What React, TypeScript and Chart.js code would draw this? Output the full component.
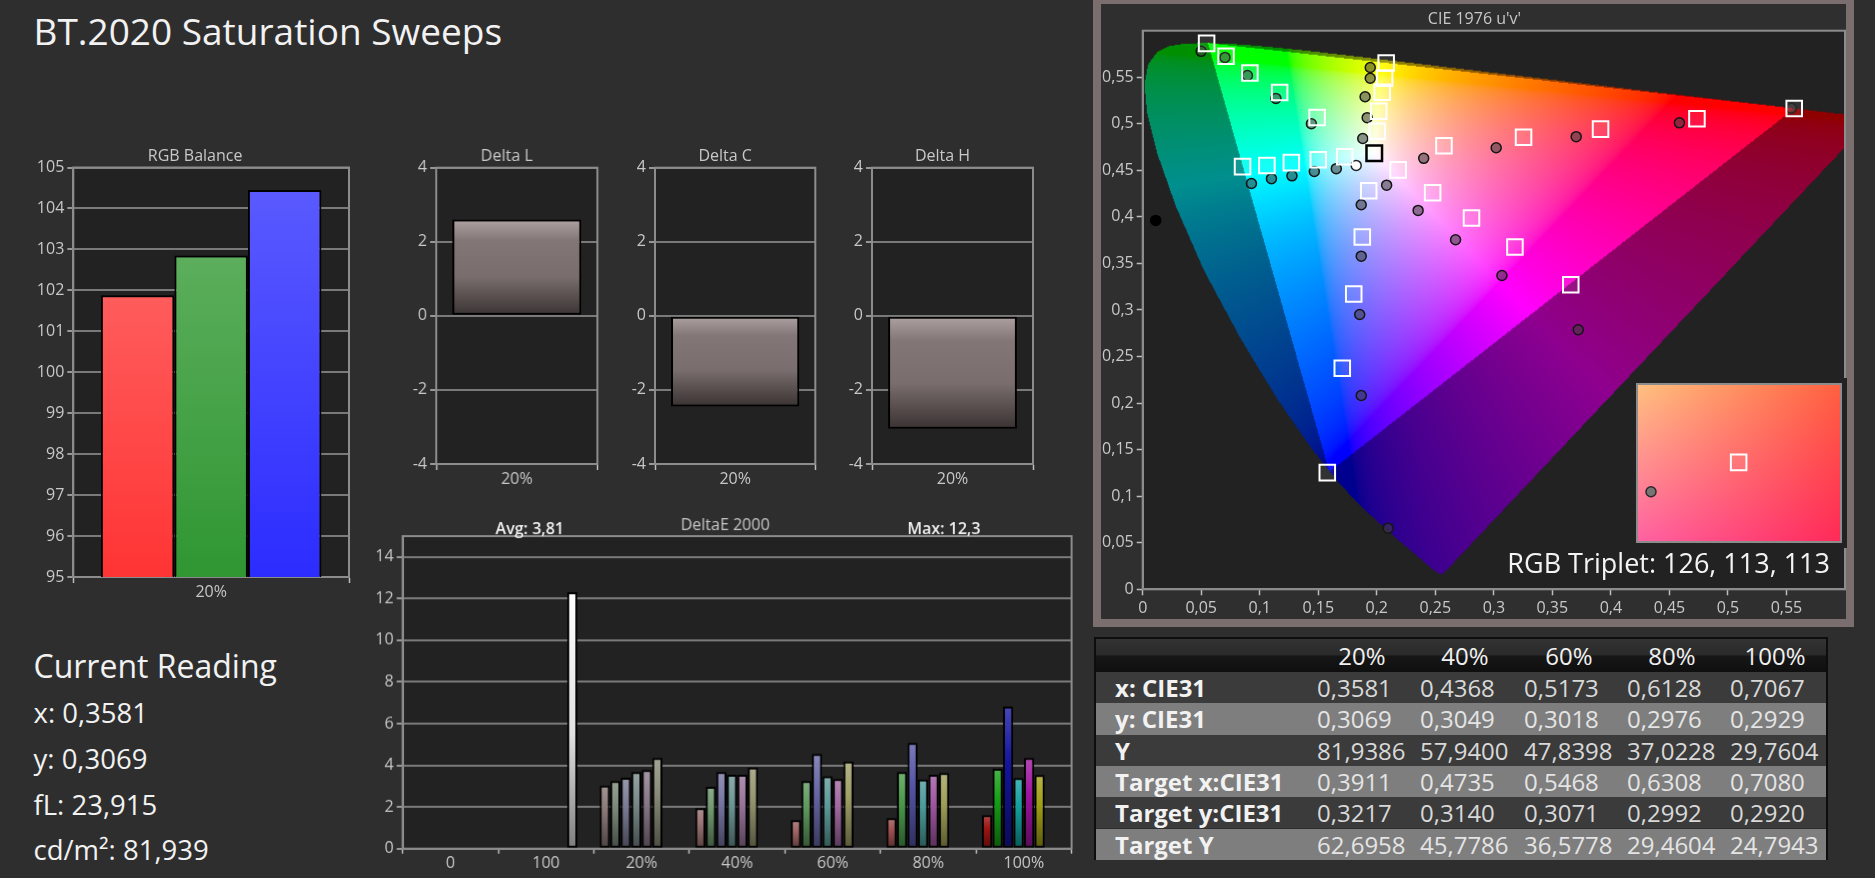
import React, { useEffect, useRef } from 'react';
import { Chart, registerables } from 'chart.js';

Chart.register(...registerables);

const FONT = "'Open Sans', 'Noto Sans', 'DejaVu Sans', sans-serif";
const PAGE_BG = '#2e2e2e';
const PLOT_BG = '#222222';
const GRID = '#7a7a7a';
const FRAME = '#8c8c8c';
const TICK = '#c8c8c8';
const TICK_MARK = '#bdbdbd';
const TICK_SIZE = 16;

Chart.defaults.font.family = FONT;
Chart.defaults.color = TICK;

// ---------------- data ----------------
const TITLE = 'BT.2020 Saturation Sweeps';

const RGB_LABELS = ['20%'];
const RGB_RED = [101.88];
const RGB_GREEN = [102.85];
const RGB_BLUE = [104.45];

const DELTA_LABELS = ['20%'];
const DELTA_L = [2.6];
const DELTA_C = [-2.45];
const DELTA_H = [-3.05];

const DE_LABELS = ['0', '100', '20%', '40%', '60%', '80%', '100%'];
const DE_RED = [null, null, 3.03, 1.95, 1.37, 1.47, 1.61];
const DE_GREEN = [null, null, 3.24, 2.97, 3.24, 3.68, 3.84];
const DE_BLUE = [null, null, 3.4, 3.68, 4.55, 5.08, 6.82];
const DE_CYAN = [null, null, 3.68, 3.55, 3.47, 3.32, 3.39];
const DE_MAGENTA = [null, null, 3.77, 3.55, 3.34, 3.55, 4.35];
const DE_YELLOW = [null, null, 4.35, 3.9, 4.19, 3.63, 3.53];
const DE_WHITE = [null, 12.3, null, null, null, null, null];
const DE_BLACK = [0, null, null, null, null, null, null];
const DE_AVG_TEXT = 'Avg: 3,81';
const DE_MAX_TEXT = 'Max: 12,3';

// colours of the delta E bars per category (0,100,20%..100%)
const DE_RED_COL = ['#000', '#000', '#8a7878', '#9a7272', '#a06464', '#a05050', '#a01414'];
const DE_GREEN_COL = ['#000', '#000', '#7a887a', '#6e966e', '#5e985e', '#4c9a4c', '#14a014'];
const DE_BLUE_COL = ['#000', '#000', '#7c7c96', '#7676a4', '#6868a8', '#5656a8', '#1414a0'];
const DE_CYAN_COL = ['#000', '#000', '#7a8a8a', '#6e9696', '#5e9a9a', '#4c9a9a', '#14a0a0'];
const DE_MAGENTA_COL = ['#000', '#000', '#8a7a8a', '#9a749a', '#a068a0', '#a056a0', '#a014a0'];
const DE_YELLOW_COL = ['#000', '#000', '#8a8a78', '#969670', '#a0a068', '#a0a058', '#a0a014'];

const TABLE_COLS = ['20%', '40%', '60%', '80%', '100%'];
const MEAS_X = [0.3581, 0.4368, 0.5173, 0.6128, 0.7067];
const MEAS_Y = [0.3069, 0.3049, 0.3018, 0.2976, 0.2929];
const MEAS_LUM = [81.9386, 57.94, 47.8398, 37.0228, 29.7604];
const TARGET_X = [0.3911, 0.4735, 0.5468, 0.6308, 0.708];
const TARGET_Y = [0.3217, 0.314, 0.3071, 0.2992, 0.292];
const TARGET_LUM = [62.6958, 45.7786, 36.5778, 29.4604, 24.7943];

const READING_FL = '23,915';
const READING_CDM2 = '81,939';
const RGB_TRIPLET = 'RGB Triplet: 126, 113, 113';

// CIE 1976 u'v' targets (20% -> 100%)
const TARGET_GREEN_UV = [[0.149, 0.5067], [0.117, 0.5337], [0.0916, 0.5545], [0.0712, 0.5726], [0.0546, 0.5864]];
const TARGET_BLUE_UV = [[0.1931, 0.4281], [0.1876, 0.3785], [0.1803, 0.3172], [0.1705, 0.2374], [0.1577, 0.1253]];
const TARGET_CYAN_UV = [[0.1726, 0.4647], [0.15, 0.4613], [0.127, 0.4583], [0.1061, 0.4553], [0.0853, 0.454]];
const TARGET_MAGENTA_UV = [[0.2182, 0.4505], [0.2477, 0.426], [0.2809, 0.3988], [0.318, 0.3677], [0.3657, 0.3272]];
const TARGET_YELLOW_UV = [[0.2003, 0.492], [0.2016, 0.5135], [0.2046, 0.5338], [0.2067, 0.5489], [0.208, 0.5653]];
// measured (20% -> 100%)
const MEAS_GREEN_UV = [[0.1441, 0.5001], [0.1138, 0.5273], [0.0895, 0.5519], [0.0703, 0.5713], [0.0499, 0.5778]];
const MEAS_BLUE_UV = [[0.1867, 0.413], [0.1867, 0.3578], [0.1854, 0.2952], [0.1867, 0.2081], [0.2097, 0.0657]];
const MEAS_CYAN_UV = [[0.1654, 0.4518], [0.1466, 0.4488], [0.1275, 0.4441], [0.11, 0.4411], [0.0929, 0.4359]];
const MEAS_MAGENTA_UV = [[0.2084, 0.4341], [0.2353, 0.407], [0.2673, 0.3755], [0.3069, 0.3371], [0.3721, 0.2788]];
const MEAS_YELLOW_UV = [[0.188, 0.4842], [0.1918, 0.5066], [0.19, 0.5291], [0.1944, 0.5489], [0.1944, 0.5605]];
const WHITE_TARGET_XY = [0.3127, 0.329];
const MEAS_WHITE_UV = [0.1824, 0.4553];
const MEAS_BLACK_UV = [0.0111, 0.3962];

const BT2020_X = [0.708, 0.17, 0.131];
const BT2020_Y = [0.292, 0.797, 0.046];

// CIE 1931 spectral locus (380 -> 700 nm)
const LOCUS_X = [0.1741, 0.1733, 0.1714, 0.1689, 0.1644, 0.1566, 0.144, 0.1355, 0.1241, 0.1096, 0.0913, 0.0687, 0.0454, 0.0235, 0.0082, 0.0039, 0.0139, 0.0389, 0.0743, 0.1142, 0.1547, 0.1929, 0.2296, 0.2658, 0.3016, 0.3373, 0.3731, 0.4087, 0.4441, 0.4788, 0.5125, 0.5448, 0.5752, 0.6029, 0.627, 0.6658, 0.6915, 0.7079, 0.719, 0.726, 0.7347];
const LOCUS_Y = [0.005, 0.0048, 0.0051, 0.0069, 0.0109, 0.0177, 0.0297, 0.0399, 0.0578, 0.0868, 0.1327, 0.2007, 0.295, 0.4127, 0.5384, 0.6548, 0.7502, 0.812, 0.8338, 0.8262, 0.8059, 0.7816, 0.7543, 0.7243, 0.6923, 0.6589, 0.6245, 0.5896, 0.5547, 0.5202, 0.4866, 0.4544, 0.4242, 0.3965, 0.3725, 0.334, 0.3083, 0.292, 0.2809, 0.274, 0.2653];

const INSET_U_RANGE = [0.2375, 0.2774];
const INSET_V_RANGE = [0.4404, 0.5117];
const INSET_CORNERS = ['#ffc080', '#ff6040', '#ff62a2', '#ff2a58']; // TL, TR, BL, BR

// ---------------- helpers ----------------
function xyToUv(x: number, y: number): [number, number] {
  const d = -2 * x + 12 * y + 3;
  return [(4 * x) / d, (9 * y) / d];
}
function hexToRgb(h: string) {
  const n = parseInt(h.slice(1), 16);
  return [(n >> 16) & 255, (n >> 8) & 255, n & 255];
}
function mixHex(h: string, t: number, target: number) {
  const c = hexToRgb(h).map((v) => Math.round(v + (target - v) * t));
  return `rgb(${c[0]},${c[1]},${c[2]})`;
}
function fmtComma(v: number, dec: number) {
  return v.toFixed(dec).replace('.', ',');
}
function tickComma(v: any) {
  return String(Math.round(Number(v) * 100) / 100).replace('.', ',');
}

function barFill(stops: (i: number) => [number, string][]) {
  return (c: any) => {
    const chart = c.chart;
    const ys = chart.scales && chart.scales.y;
    const st = stops(c.dataIndex || 0);
    const v = c.raw;
    if (!ys || !chart.chartArea || typeof v !== 'number') return st[Math.floor(st.length / 2)][1];
    const base = Math.min(Math.max(0, ys.min), ys.max);
    const p1 = ys.getPixelForValue(v);
    const p0 = ys.getPixelForValue(base);
    const top = Math.min(p0, p1);
    const bot = Math.max(p0, p1);
    if (bot - top < 1) return st[0][1];
    const g = chart.ctx.createLinearGradient(0, top, 0, bot);
    st.forEach(([o, col]) => g.addColorStop(o, col));
    return g;
  };
}

function uvToRgb(u: number, v: number) {
  const den = 6 * u - 16 * v + 12;
  const x = (9 * u) / den;
  const y = (4 * v) / den;
  const X = x / y;
  const Z = (1 - x - y) / y;
  let r = 3.2406 * X - 1.5372 - 0.4986 * Z;
  let g = -0.9689 * X + 1.8758 + 0.0415 * Z;
  let b = 0.0557 * X - 0.204 + 1.057 * Z;
  r = Math.max(r, 0);
  g = Math.max(g, 0);
  b = Math.max(b, 0);
  const m = Math.max(r, g, b) || 1;
  return [r / m, g / m, b / m].map((c) => 255 * (c <= 0.0031308 ? 12.92 * c : 1.055 * Math.pow(c, 1 / 2.4) - 0.055));
}
function inTri(u: number, v: number, t: [number, number][]) {
  const s = (a: [number, number], b: [number, number]) => (b[0] - a[0]) * (v - a[1]) - (b[1] - a[1]) * (u - a[0]);
  const d1 = s(t[0], t[1]);
  const d2 = s(t[1], t[2]);
  const d3 = s(t[2], t[0]);
  const neg = d1 < 0 || d2 < 0 || d3 < 0;
  const pos = d1 > 0 || d2 > 0 || d3 > 0;
  return !(neg && pos);
}

// ---------------- plugins ----------------
const plotFrame = {
  id: 'plotFrame',
  beforeDraw(chart: any, _a: any, opts: any) {
    const a = chart.chartArea;
    if (!a) return;
    const ctx = chart.ctx;
    ctx.save();
    ctx.fillStyle = (opts && opts.bg) || PLOT_BG;
    ctx.fillRect(a.left, a.top, a.right - a.left, a.bottom - a.top);
    ctx.restore();
  },
  beforeDatasetsDraw(chart: any, _a: any, opts: any) {
    if (opts && opts.frame === false) return;
    const a = chart.chartArea;
    const ctx = chart.ctx;
    ctx.save();
    ctx.strokeStyle = FRAME;
    ctx.lineWidth = 2;
    ctx.strokeRect(a.left, a.top, a.right - a.left, a.bottom - a.top);
    ctx.restore();
  },
};

// panel title drawn above the plot, centred at (plot centre + dx)
const panelTitle = {
  id: 'panelTitle',
  afterDraw(chart: any, _a: any, opts: any) {
    if (!opts || !opts.text) return;
    const a = chart.chartArea;
    const ctx = chart.ctx;
    ctx.save();
    ctx.font = `16px ${FONT}`;
    ctx.fillStyle = TICK;
    ctx.textAlign = 'center';
    ctx.textBaseline = 'middle';
    ctx.fillText(opts.text, (a.left + a.right) / 2 + (opts.dx || 0), a.top - (opts.dy || 11));
    ctx.restore();
  },
};

const gamutCache = new WeakMap<any, any>();
const gamutPlugin = {
  id: 'gamut',
  beforeDatasetsDraw(chart: any) {
    const a = chart.chartArea;
    const xs = chart.scales.x;
    const ys = chart.scales.y;
    const w = Math.max(1, Math.round(a.right - a.left));
    const h = Math.max(1, Math.round(a.bottom - a.top));
    let cache = gamutCache.get(chart);
    if (!cache || cache.w !== w || cache.h !== h) {
      const off = document.createElement('canvas');
      off.width = w;
      off.height = h;
      const octx = off.getContext('2d')!;
      const img = octx.createImageData(w, h);
      const d = img.data;
      const poly = LOCUS_X.map((lx, k) => {
        const [u, v] = xyToUv(lx, LOCUS_Y[k]);
        return [xs.getPixelForValue(u) - a.left, ys.getPixelForValue(v) - a.top];
      });
      const tri = BT2020_X.map((px, k) => xyToUv(px, BT2020_Y[k]));
      const us = new Float64Array(w);
      for (let i = 0; i < w; i++) us[i] = xs.getValueForPixel(a.left + i + 0.5);
      for (let j = 0; j < h; j++) {
        const py = j + 0.5;
        const v = ys.getValueForPixel(a.top + py);
        const cuts: number[] = [];
        for (let k = 0; k < poly.length; k++) {
          const p = poly[k];
          const q = poly[(k + 1) % poly.length];
          if ((p[1] <= py && q[1] > py) || (q[1] <= py && p[1] > py)) {
            cuts.push(p[0] + ((py - p[1]) / (q[1] - p[1])) * (q[0] - p[0]));
          }
        }
        cuts.sort((m, n) => m - n);
        for (let c = 0; c + 1 < cuts.length; c += 2) {
          const i0 = Math.max(0, Math.ceil(cuts[c] - 0.5));
          const i1 = Math.min(w - 1, Math.floor(cuts[c + 1] - 0.5));
          for (let i = i0; i <= i1; i++) {
            const u = us[i];
            const rgb = uvToRgb(u, v);
            const f = inTri(u, v, tri) ? 1 : 0.56;
            const o = (j * w + i) * 4;
            d[o] = rgb[0] * f;
            d[o + 1] = rgb[1] * f;
            d[o + 2] = rgb[2] * f;
            d[o + 3] = 255;
          }
        }
      }
      octx.putImageData(img, 0, 0);
      cache = { w, h, off };
      gamutCache.set(chart, cache);
    }
    const ctx = chart.ctx;
    ctx.save();
    ctx.drawImage(cache.off, a.left, a.top, a.right - a.left, a.bottom - a.top);
    ctx.restore();
  },
};

const tripletPlugin = {
  id: 'triplet',
  afterDatasetsDraw(chart: any) {
    const a = chart.chartArea;
    const ctx = chart.ctx;
    ctx.save();
    ctx.font = `27px ${FONT}`;
    ctx.fillStyle = '#f4f4f4';
    ctx.textAlign = 'right';
    ctx.textBaseline = 'alphabetic';
    ctx.fillText(RGB_TRIPLET, a.right - 15, a.bottom - 16.5);
    ctx.restore();
  },
};

const insetBgCache = new WeakMap<any, any>();
const insetBg = {
  id: 'insetBg',
  beforeDatasetsDraw(chart: any) {
    const a = chart.chartArea;
    const w = Math.max(1, Math.round(a.right - a.left));
    const h = Math.max(1, Math.round(a.bottom - a.top));
    let cache = insetBgCache.get(chart);
    if (!cache || cache.w !== w || cache.h !== h) {
      const off = document.createElement('canvas');
      off.width = w;
      off.height = h;
      const octx = off.getContext('2d')!;
      const img = octx.createImageData(w, h);
      const [tl, tr, bl, br] = INSET_CORNERS.map(hexToRgb);
      for (let j = 0; j < h; j++) {
        const ty = j / Math.max(1, h - 1);
        for (let i = 0; i < w; i++) {
          const tx = i / Math.max(1, w - 1);
          const o = (j * w + i) * 4;
          for (let k = 0; k < 3; k++) {
            const top = tl[k] + (tr[k] - tl[k]) * tx;
            const bot = bl[k] + (br[k] - bl[k]) * tx;
            img.data[o + k] = top + (bot - top) * ty;
          }
          img.data[o + 3] = 255;
        }
      }
      octx.putImageData(img, 0, 0);
      cache = { w, h, off };
      insetBgCache.set(chart, cache);
    }
    chart.ctx.drawImage(cache.off, a.left, a.top, a.right - a.left, a.bottom - a.top);
  },
};

const deltaEText = {
  id: 'deltaEText',
  afterDraw(chart: any) {
    const a = chart.chartArea;
    const ctx = chart.ctx;
    const w = a.right - a.left;
    ctx.save();
    ctx.font = `600 16px ${FONT}`;
    ctx.fillStyle = '#f2f2f2';
    ctx.textAlign = 'center';
    ctx.textBaseline = 'middle';
    ctx.fillText(DE_AVG_TEXT, a.left + 0.19 * w, a.top - 7);
    ctx.fillText(DE_MAX_TEXT, a.left + 0.809 * w, a.top - 7);
    ctx.restore();
  },
};

// ---------------- scale builders ----------------
function yScale(min: number, max: number, step: number, width: number) {
  return {
    type: 'linear',
    min,
    max,
    ticks: { stepSize: step, color: TICK, font: { size: TICK_SIZE, family: FONT }, padding: 3, includeBounds: false },
    grid: { color: GRID, lineWidth: 2, tickLength: 6, tickColor: TICK_MARK, tickWidth: 1.5 },
    border: { color: FRAME, width: 2 },
    afterFit: (s: any) => {
      s.width = width;
    },
  };
}
function xCategory(height: number, tickLength = 6) {
  return {
    type: 'category',
    ticks: { color: TICK, font: { size: TICK_SIZE, family: FONT }, padding: 0, maxRotation: 0, autoSkip: false },
    grid: { offset: true, drawOnChartArea: false, tickLength, tickColor: TICK_MARK, tickWidth: 1.5 },
    border: { color: FRAME, width: 2 },
    afterFit: (s: any) => {
      s.height = height;
    },
  };
}
const baseOpts = { animation: false as const, responsive: true, maintainAspectRatio: false, events: [] as any[] };
const quietPlugins = { legend: { display: false }, tooltip: { enabled: false }, title: { display: false } };

// ---------------- chart box ----------------
function ChartBox({ left, top, width, height, make }: { left: number; top: number; width: number; height: number; make: () => any }) {
  const ref = useRef<HTMLCanvasElement | null>(null);
  useEffect(() => {
    const chart = new Chart(ref.current as HTMLCanvasElement, make());
    return () => chart.destroy();
  }, []);
  return (
    <div style={{ position: 'absolute', left, top, width, height }}>
      <canvas ref={ref} />
    </div>
  );
}

function rgbConfig() {
  const grad = (t: string, b: string) => barFill(() => [[0, t], [1, b]]);
  return {
    type: 'bar',
    data: {
      labels: RGB_LABELS,
      datasets: [
        { data: RGB_RED, backgroundColor: grad('#ff5c5c', '#ff3434') },
        { data: RGB_GREEN, backgroundColor: grad('#5cae5c', '#2f9632') },
        { data: RGB_BLUE, backgroundColor: grad('#5a5aff', '#2c2cff') },
      ].map((d) => ({ ...d, borderColor: '#000', borderWidth: 2, borderSkipped: false, categoryPercentage: 0.8, barPercentage: 1 })),
    },
    options: {
      ...baseOpts,
      layout: { padding: { left: 0, right: 10, top: 27.5, bottom: 0 } },
      plugins: { ...quietPlugins, panelTitle: { text: 'RGB Balance', dx: -16, dy: 10.8 } },
      scales: { x: xCategory(30), y: yScale(95, 105, 1, 73.3) },
    },
    plugins: [plotFrame, panelTitle],
  };
}

function deltaConfig(name: string, values: number[]) {
  return {
    type: 'bar',
    data: {
      labels: DELTA_LABELS,
      datasets: [
        {
          data: values,
          backgroundColor: barFill(() => [[0, '#aea2a2'], [0.22, '#827676'], [0.6, '#796d6d'], [1, '#3a3232']]),
          borderColor: '#000',
          borderWidth: 2,
          borderSkipped: false,
          categoryPercentage: 0.8,
          barPercentage: 1,
        },
      ],
    },
    options: {
      ...baseOpts,
      layout: { padding: { left: 0, right: 6, top: 27.7, bottom: 0 } },
      plugins: { ...quietPlugins, panelTitle: { text: name, dx: -10, dy: 11.7 } },
      scales: { x: xCategory(30), y: yScale(-4, 4, 2, 40) },
    },
    plugins: [plotFrame, panelTitle],
  };
}

function deltaEConfig() {
  const colourSet = (cols: string[]) =>
    barFill((i) => [[0, mixHex(cols[i], 0.22, 255)], [0.4, mixHex(cols[i], 0, 0)], [1, mixHex(cols[i], 0.45, 0)]]);
  const ds = [
    { data: DE_RED, backgroundColor: colourSet(DE_RED_COL) },
    { data: DE_GREEN, backgroundColor: colourSet(DE_GREEN_COL) },
    { data: DE_BLUE, backgroundColor: colourSet(DE_BLUE_COL) },
    { data: DE_CYAN, backgroundColor: colourSet(DE_CYAN_COL) },
    { data: DE_MAGENTA, backgroundColor: colourSet(DE_MAGENTA_COL) },
    { data: DE_YELLOW, backgroundColor: colourSet(DE_YELLOW_COL) },
    { data: DE_WHITE, backgroundColor: barFill(() => [[0, '#ffffff'], [0.55, '#e2e2e2'], [1, '#7e7e7e']]) },
    { data: DE_BLACK, backgroundColor: '#000' },
  ].map((d) => ({ ...d, borderColor: '#000', borderWidth: 2, borderSkipped: false, categoryPercentage: 0.88, barPercentage: 0.97 }));
  return {
    type: 'bar',
    data: { labels: DE_LABELS, datasets: ds },
    options: {
      ...baseOpts,
      layout: { padding: { left: 0, right: 6, top: 31, bottom: 0 } },
      plugins: { ...quietPlugins, panelTitle: { text: 'DeltaE 2000', dx: -12, dy: 11 } },
      scales: { x: xCategory(30, 5), y: yScale(0, 15, 2, 42.6) },
    },
    plugins: [plotFrame, deltaEText, panelTitle],
  };
}

function cieConfig() {
  const toPts = (arr: number[][]) => arr.map(([x, y]) => ({ x, y }));
  const redTargets = TARGET_X.map((x, i) => xyToUv(x, TARGET_Y[i]));
  const redMeas = MEAS_X.map((x, i) => xyToUv(x, MEAS_Y[i]));
  const targets = [
    ...toPts(redTargets),
    ...toPts(TARGET_GREEN_UV),
    ...toPts(TARGET_BLUE_UV),
    ...toPts(TARGET_CYAN_UV),
    ...toPts(TARGET_MAGENTA_UV),
    ...toPts(TARGET_YELLOW_UV),
  ];
  const meas = [
    ...toPts(redMeas),
    ...toPts(MEAS_GREEN_UV),
    ...toPts(MEAS_BLUE_UV),
    ...toPts(MEAS_CYAN_UV),
    ...toPts(MEAS_MAGENTA_UV),
    ...toPts(MEAS_YELLOW_UV),
  ];
  const wt = xyToUv(WHITE_TARGET_XY[0], WHITE_TARGET_XY[1]);
  const axis = (isX: boolean, size: number) => ({
    type: 'linear',
    min: 0,
    max: 0.6,
    ticks: { stepSize: 0.05, color: TICK, font: { size: TICK_SIZE, family: FONT }, padding: isX ? 4 : 3, callback: tickComma, maxRotation: 0, autoSkip: false },
    grid: { drawOnChartArea: false, tickLength: 6, tickColor: TICK_MARK, tickWidth: 1.5 },
    border: { color: FRAME, width: 2 },
    afterBuildTicks: (s: any) => {
      s.ticks = s.ticks.filter((t: any) => t.value < 0.5999);
    },
    afterFit: (s: any) => {
      if (isX) s.height = size;
      else s.width = size;
    },
  });
  return {
    type: 'scatter',
    data: {
      datasets: [
        { data: [{ x: wt[0], y: wt[1] }], pointStyle: 'rect', pointRadius: 11, borderColor: '#000', borderWidth: 2.5, backgroundColor: 'rgba(0,0,0,0)' },
        { data: targets, pointStyle: 'rect', pointRadius: 11, borderColor: '#ffffff', borderWidth: 2, backgroundColor: 'rgba(255,255,255,0.08)' },
        { data: [{ x: MEAS_WHITE_UV[0], y: MEAS_WHITE_UV[1] }], pointRadius: 5, borderColor: '#222', borderWidth: 1.5, backgroundColor: '#ffffff' },
        { data: [{ x: MEAS_BLACK_UV[0], y: MEAS_BLACK_UV[1] }], pointRadius: 5, borderColor: '#000', borderWidth: 1.5, backgroundColor: '#000000' },
        { data: meas, pointRadius: 5, borderColor: '#151515', borderWidth: 1.5, backgroundColor: 'rgba(62,62,62,0.56)' },
      ],
    },
    options: {
      ...baseOpts,
      layout: { padding: { left: 0, right: 6, top: 26.7, bottom: 0 }, autoPadding: false },
      plugins: { ...quietPlugins, panelTitle: { text: "CIE 1976 u'v'", dx: -19.4, dy: 11.7 } },
      scales: { x: axis(true, 32), y: axis(false, 41.7) },
    },
    plugins: [gamutPlugin, plotFrame, tripletPlugin, panelTitle],
  };
}

function insetConfig() {
  const t = xyToUv(TARGET_X[0], TARGET_Y[0]);
  const m = xyToUv(MEAS_X[0], MEAS_Y[0]);
  return {
    type: 'scatter',
    data: {
      datasets: [
        { data: [{ x: t[0], y: t[1] }], pointStyle: 'rect', pointRadius: 11, borderColor: '#ffffff', borderWidth: 2, backgroundColor: 'rgba(255,255,255,0.08)' },
        { data: [{ x: m[0], y: m[1] }], pointRadius: 5, borderColor: '#2a2a2a', borderWidth: 1.5, backgroundColor: '#7a7474' },
      ],
    },
    options: {
      ...baseOpts,
      layout: { padding: 0, autoPadding: false },
      plugins: { legend: { display: false }, tooltip: { enabled: false } },
      scales: {
        x: { type: 'linear', display: false, min: INSET_U_RANGE[0], max: INSET_U_RANGE[1] },
        y: { type: 'linear', display: false, min: INSET_V_RANGE[0], max: INSET_V_RANGE[1] },
      },
    },
    plugins: [insetBg],
  };
}

// ---------------- table ----------------
function DataTable() {
  const rows = [
    { label: 'x: CIE31', vals: MEAS_X, dec: 4, light: false },
    { label: 'y: CIE31', vals: MEAS_Y, dec: 4, light: true },
    { label: 'Y', vals: MEAS_LUM, dec: 4, light: false },
    { label: 'Target x:CIE31', vals: TARGET_X, dec: 4, light: true },
    { label: 'Target y:CIE31', vals: TARGET_Y, dec: 4, light: false },
    { label: 'Target Y', vals: TARGET_LUM, dec: 4, light: true },
  ];
  const colStarts = [221, 324, 428, 531, 634];
  const rowH = 31.3;
  return (
    <div
      style={{
        position: 'absolute',
        left: 1094,
        top: 637,
        width: 734,
        height: 35 + rowH * rows.length,
        borderLeft: '2px solid #0d0d0d',
        borderTop: '2px solid #0d0d0d',
        borderRight: '2px solid #0d0d0d',
        boxSizing: 'border-box',
        overflow: 'hidden',
        fontFamily: FONT,
        fontSize: 24,
      }}
    >
      <div
        style={{
          position: 'absolute',
          left: 0,
          top: 0,
          right: 0,
          height: 33,
          background: 'linear-gradient(#333333 0%, #2a2a2a 48%, #161616 52%, #0f0f0f 100%)',
        }}
      >
        {TABLE_COLS.map((c, i) => (
          <div
            key={c}
            style={{ position: 'absolute', left: colStarts[i], top: 0, width: 90, height: 33, lineHeight: '33px', textAlign: 'center', color: '#f0f0f0' }}
          >
            {c}
          </div>
        ))}
      </div>
      {rows.map((r, ri) => (
        <div
          key={r.label}
          style={{ position: 'absolute', left: 0, right: 0, top: 33 + ri * rowH, height: rowH, background: r.light ? '#7e7e7e' : '#3b3b3b' }}
        >
          <div style={{ position: 'absolute', left: 19, top: 0, height: rowH, lineHeight: `${rowH}px`, fontWeight: 700, color: '#f2f2f2' }}>{r.label}</div>
          {r.vals.map((v, ci) => (
            <div
              key={ci}
              style={{ position: 'absolute', left: colStarts[ci], top: 0, height: rowH, lineHeight: `${rowH}px`, color: r.light ? '#e4e4e4' : '#d8d8d8' }}
            >
              {fmtComma(v, r.dec)}
            </div>
          ))}
        </div>
      ))}
    </div>
  );
}

function Text({ left, baseline, size, children, color = '#f2f2f2' }: { left: number; baseline: number; size: number; children: any; color?: string }) {
  return (
    <div
      style={{
        position: 'absolute',
        left,
        top: baseline - 0.888 * size,
        fontFamily: FONT,
        fontSize: size,
        lineHeight: 1,
        color,
        whiteSpace: 'nowrap',
      }}
    >
      {children}
    </div>
  );
}

function InsetChart() {
  const ref = useRef<HTMLCanvasElement | null>(null);
  useEffect(() => {
    const chart = new Chart(ref.current as HTMLCanvasElement, insetConfig() as any);
    return () => chart.destroy();
  }, []);
  return (
    <div style={{ position: 'absolute', left: 0, top: 0, width: 202, height: 156 }}>
      <canvas ref={ref} />
    </div>
  );
}

export default function App() {
  return (
    <div style={{ position: 'fixed', left: 0, top: 0, width: 1875, height: 878, background: PAGE_BG, overflow: 'hidden' }}>
      <Text left={33.5} baseline={45} size={37}>
        {TITLE}
      </Text>

      <ChartBox left={0} top={140} width={359} height={467} make={rgbConfig} />
      <ChartBox left={396.3} top={140} width={206.4} height={354} make={() => deltaConfig('Delta L', DELTA_L)} />
      <ChartBox left={614.7} top={140} width={206.3} height={354} make={() => deltaConfig('Delta C', DELTA_C)} />
      <ChartBox left={832} top={140} width={207} height={354} make={() => deltaConfig('Delta H', DELTA_H)} />
      <ChartBox left={360} top={505} width={716.6} height={372.7} make={deltaEConfig} />

      <Text left={33.5} baseline={678} size={32}>
        Current Reading
      </Text>
      <Text left={33.5} baseline={723} size={27.5}>
        {'x: ' + fmtComma(MEAS_X[0], 4)}
      </Text>
      <Text left={33.5} baseline={769} size={27.5}>
        {'y: ' + fmtComma(MEAS_Y[0], 4)}
      </Text>
      <Text left={33.5} baseline={815} size={27.5}>
        {'fL: ' + READING_FL}
      </Text>
      <Text left={33.5} baseline={860} size={27.5}>
        {'cd/m²: ' + READING_CDM2}
      </Text>

      <div
        style={{
          position: 'absolute',
          left: 1093,
          top: -4,
          width: 761,
          height: 631,
          border: '8px solid #7a6e6e',
          boxSizing: 'border-box',
          background: '#2f2f2f',
        }}
      />
      <ChartBox left={1101} top={4} width={750} height={617.3} make={cieConfig} />
      <div style={{ position: 'absolute', left: 1631, top: 378, width: 216, height: 170, background: PLOT_BG }} />
      <div
        style={{
          position: 'absolute',
          left: 1636,
          top: 383,
          width: 206,
          height: 160,
          border: '2px solid #8c8c8c',
          boxSizing: 'border-box',
        }}
      >
        <InsetChart />
      </div>

      <DataTable />
    </div>
  );
}
